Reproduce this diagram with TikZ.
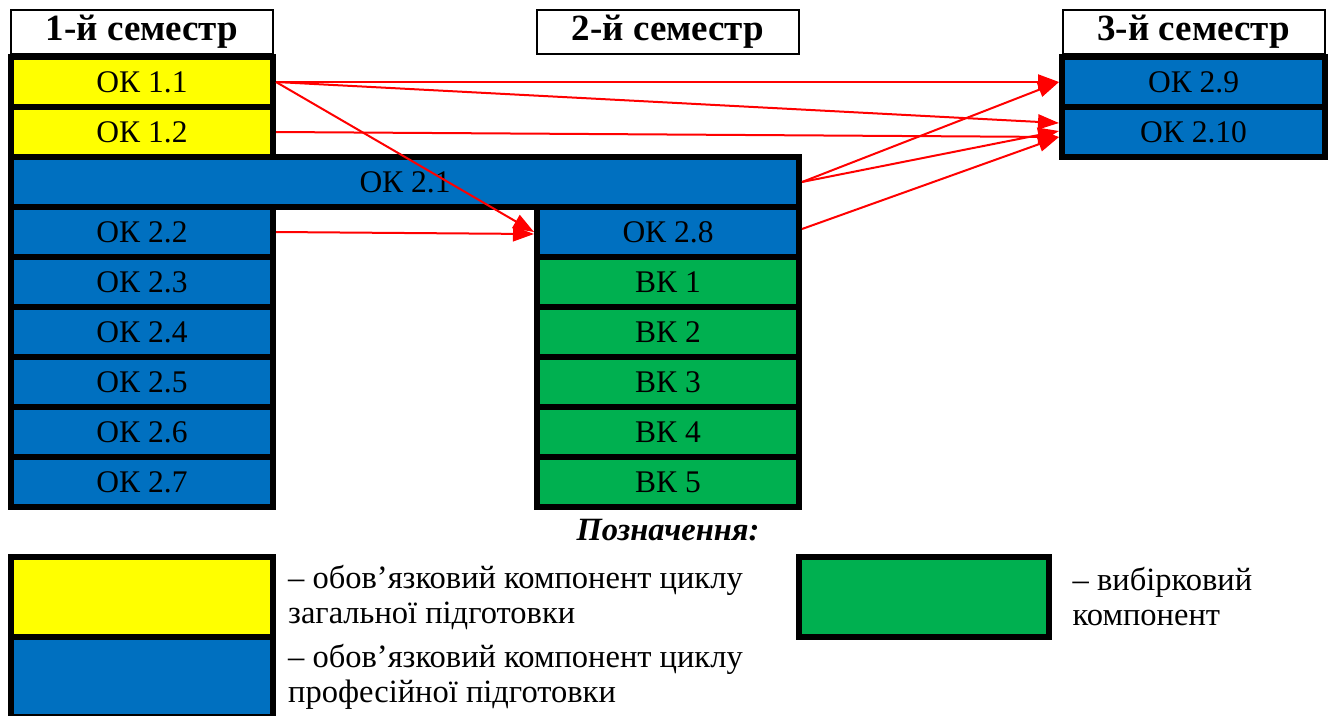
\documentclass[tikz,border=0pt]{standalone}
\usepackage{fontspec}
\setmainfont{Liberation Serif}
\usetikzlibrary{arrows.meta}
\definecolor{cyel}{HTML}{FFFF00}
\definecolor{cblue}{HTML}{0070C0}
\definecolor{cgreen}{HTML}{00B050}
\begin{document}
\begin{tikzpicture}[x=1pt,y=-1pt,
  cell/.style={draw=black,line width=6pt,inner sep=0pt,minimum height=50pt,minimum width=262pt,
    font=\fontsize{31.5}{33}\selectfont},
  okgen/.style={cell,fill=cyel},
  okpro/.style={cell,fill=cblue},
  vk/.style={cell,fill=cgreen},
  head/.style={draw=black,line width=2pt,inner sep=0pt,minimum height=44pt,minimum width=262pt,
    font=\fontsize{37}{39}\selectfont\bfseries},
  arr/.style={draw=red,line width=2pt,-{Triangle[length=21pt,width=15pt]}},
  legtxt/.style={anchor=west,align=left,inner sep=0pt,font=\fontsize{32.5}{35}\selectfont}
]
\useasboundingbox (0,0) rectangle (1329,715);
% headers
\node[head] (h1) at (142,32) {1-й семестр};
\node[head] (h2) at (668,32) {2-й семестр};
\node[head] (h3) at (1193.5,32) {3-й семестр};
% column 1
\node[okgen] (ok11) at (142,82) {ОК 1.1};
\node[okgen] (ok12) at (142,132) {ОК 1.2};
\node[okpro,minimum width=788pt] (ok21) at (405,182) {ОК 2.1};
\node[okpro] (ok22) at (142,232) {ОК 2.2};
\node[okpro] (ok23) at (142,282) {ОК 2.3};
\node[okpro] (ok24) at (142,332) {ОК 2.4};
\node[okpro] (ok25) at (142,382) {ОК 2.5};
\node[okpro] (ok26) at (142,432) {ОК 2.6};
\node[okpro] (ok27) at (142,482) {ОК 2.7};
% column 2
\node[okpro] (ok28) at (668,232) {ОК 2.8};
\node[vk] (vk1) at (668,282) {ВК 1};
\node[vk] (vk2) at (668,332) {ВК 2};
\node[vk] (vk3) at (668,382) {ВК 3};
\node[vk] (vk4) at (668,432) {ВК 4};
\node[vk] (vk5) at (668,482) {ВК 5};
% column 3
\node[okpro,minimum width=263pt] (ok29) at (1193.5,82) {ОК 2.9};
\node[okpro,minimum width=263pt] (ok210) at (1193.5,132) {ОК 2.10};
% arrows
\draw[arr] (ok11.east) -- (ok29.west);
\draw[arr] (ok11.east) -- ([yshift=9pt]ok210.west);
\draw[arr] (ok11.east) -- (ok28.west);
\draw[arr] (ok12.east) -- ([yshift=-5pt]ok210.west);
\draw[arr] (ok22.east) -- ([yshift=-2pt]ok28.west);
\draw[arr] (ok21.east) -- (ok29.west);
\draw[arr] (ok21.east) -- ([yshift=1pt]ok210.west);
\draw[arr] ([yshift=3pt]ok28.east) -- ([yshift=-5pt]ok210.west);
% legend
\node[font=\fontsize{32.5}{34}\selectfont\bfseries\itshape] (leg) at (668,530) {Позначення:};
\node[okgen,minimum height=80pt] (ly) at (142,597) {};
\node[okpro,minimum height=80pt] (lb) at (142,677) {};
\node[vk,minimum height=80pt,minimum width=250pt] (lg) at (923.5,597) {};
\node[legtxt] (ty) at ([xshift=12pt]ly.east) {– обов’язковий компонент циклу\\загальної підготовки};
\node[legtxt] (tb) at ([xshift=12pt]lb.east) {– обов’язковий компонент циклу\\професійної підготовки};
\node[legtxt] (tg) at ([xshift=21pt]lg.east) {– вибірковий\\компонент};
\end{tikzpicture}
\end{document}
